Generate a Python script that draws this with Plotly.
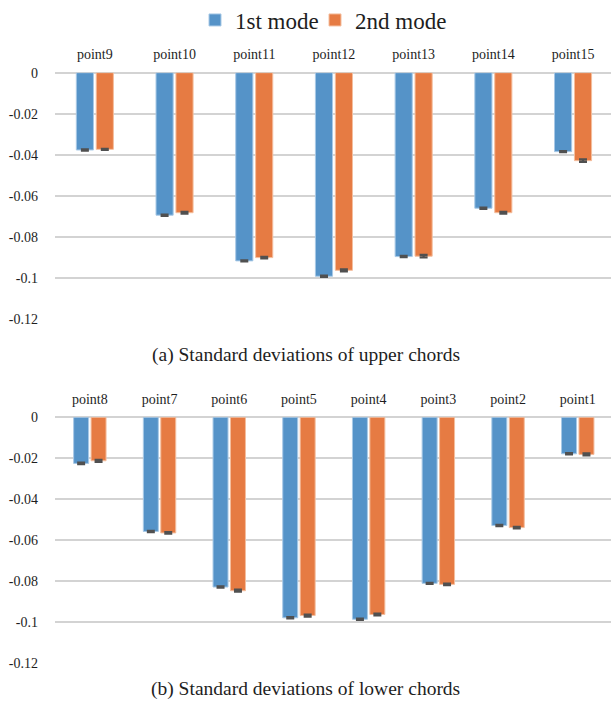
import plotly.graph_objects as go
from plotly.subplots import make_subplots

# Upper chords (points 9-15)
upper_points = ["point9", "point10", "point11", "point12", "point13", "point14", "point15"]
upper_mode1 = [-0.0377, -0.0695, -0.0918, -0.0993, -0.0897, -0.0661, -0.0385]
upper_mode2 = [-0.0374, -0.0683, -0.0902, -0.0964, -0.0895, -0.0683, -0.0429]
upper_err1 = [0.0003, 0.0003, 0.0003, 0.0003, 0.0003, 0.0003, 0.0003]
upper_err2 = [0.0003, 0.0004, 0.0004, 0.0005, 0.0006, 0.0004, 0.0006]

# Lower chords (points 8-1)
lower_points = ["point8", "point7", "point6", "point5", "point4", "point3", "point2", "point1"]
lower_mode1 = [-0.0225, -0.0557, -0.0828, -0.0978, -0.0985, -0.0810, -0.0528, -0.0178]
lower_mode2 = [-0.0212, -0.0564, -0.0846, -0.0967, -0.0962, -0.0815, -0.0538, -0.0181]
lower_err1 = [0.0004, 0.0003, 0.0003, 0.0003, 0.0003, 0.0003, 0.0003, 0.0003]
lower_err2 = [0.0005, 0.0004, 0.0005, 0.0005, 0.0004, 0.0004, 0.0004, 0.0005]

y_ticks = [0, -0.02, -0.04, -0.06, -0.08, -0.1, -0.12]
y_tick_text = ["0", "-0.02", "-0.04", "-0.06", "-0.08", "-0.1", "-0.12"]

series_names = ["1st mode", "2nd mode"]
BLUE = "#5593C8"
ORANGE = "#E67B43"
BLUE_EDGE = "#A8C9E6"
ORANGE_EDGE = "#F4BE9E"
SERIF = "Liberation Serif"
TEXT = "#1e1e1e"
GRID = "#D3D3D3"

W, H = 611, 710

fig = make_subplots(rows=2, cols=1)


def add_pair(row, cats, v1, v2, e1, e2, show):
    for name, vals, errs, col, edge, leg in (
        (series_names[0], v1, e1, BLUE, BLUE_EDGE, "legend"),
        (series_names[1], v2, e2, ORANGE, ORANGE_EDGE, "legend2"),
    ):
        fig.add_trace(
            go.Bar(
                x=cats, y=vals, name=name, showlegend=show, legendgroup=name, legend=leg,
                marker=dict(color=col, line=dict(color=edge, width=1)),
                error_y=dict(type="data", array=errs, visible=True,
                             color="#505050", thickness=2.2, width=4),
            ),
            row=row, col=1,
        )


add_pair(1, upper_points, upper_mode1, upper_mode2, upper_err1, upper_err2, True)
add_pair(2, lower_points, lower_mode1, lower_mode2, lower_err1, lower_err2, False)

x_left = 55 / W
# visible category span so the last group sits at the right edge
n_up = (W - 55) / 79.7
n_lo = (W - 55) / 69.7

axis_common = dict(
    side="top", showgrid=False, zeroline=False, showline=False, ticks="",
    tickfont=dict(family=SERIF, size=14, color=TEXT), ticklabelstandoff=10,
)
fig.update_xaxes(domain=[x_left, 1], range=[-0.5, n_up - 0.5], **axis_common, row=1, col=1)
fig.update_xaxes(domain=[x_left, 1], range=[-0.5, n_lo - 0.5], **axis_common, row=2, col=1)

yaxis_common = dict(
    range=[-0.12, 0], tickvals=y_ticks, ticktext=y_tick_text,
    showgrid=True, gridcolor=GRID, gridwidth=1.6,
    zeroline=True, zerolinecolor=GRID, zerolinewidth=1.6,
    showline=False, ticks="", ticklabelstandoff=16,
    tickfont=dict(family=SERIF, size=14, color=TEXT),
)
fig.update_yaxes(domain=[1 - 318.7 / H, 1 - 72.7 / H], **yaxis_common, row=1, col=1)
fig.update_yaxes(domain=[1 - 663.3 / H, 1 - 417.3 / H], **yaxis_common, row=2, col=1)

fig.add_annotation(text="(a) Standard deviations of upper chords", xref="paper", yref="paper",
                   x=0.5, y=1 - 355 / H, xanchor="center", yanchor="middle", showarrow=False,
                   font=dict(family=SERIF, size=19.5, color=TEXT))
fig.add_annotation(text="(b) Standard deviations of lower chords", xref="paper", yref="paper",
                   x=0.5, y=1 - 689 / H, xanchor="center", yanchor="middle", showarrow=False,
                   font=dict(family=SERIF, size=19.5, color=TEXT))

legend_style = dict(orientation="h", xanchor="left", y=1 - 20 / H, yanchor="middle",
                    font=dict(family=SERIF, size=23, color=TEXT), itemwidth=30,
                    bgcolor="rgba(0,0,0,0)", borderwidth=0)

fig.update_layout(
    width=W, height=H, autosize=False,
    margin=dict(l=0, r=0, t=0, b=0, autoexpand=False),
    paper_bgcolor="white", plot_bgcolor="white",
    barmode="group", bargap=0.5, bargroupgap=0.14,
    legend=dict(x=195 / W, **legend_style),
    legend2=dict(x=315 / W, **legend_style),
)

fig.write_html("out.html")
